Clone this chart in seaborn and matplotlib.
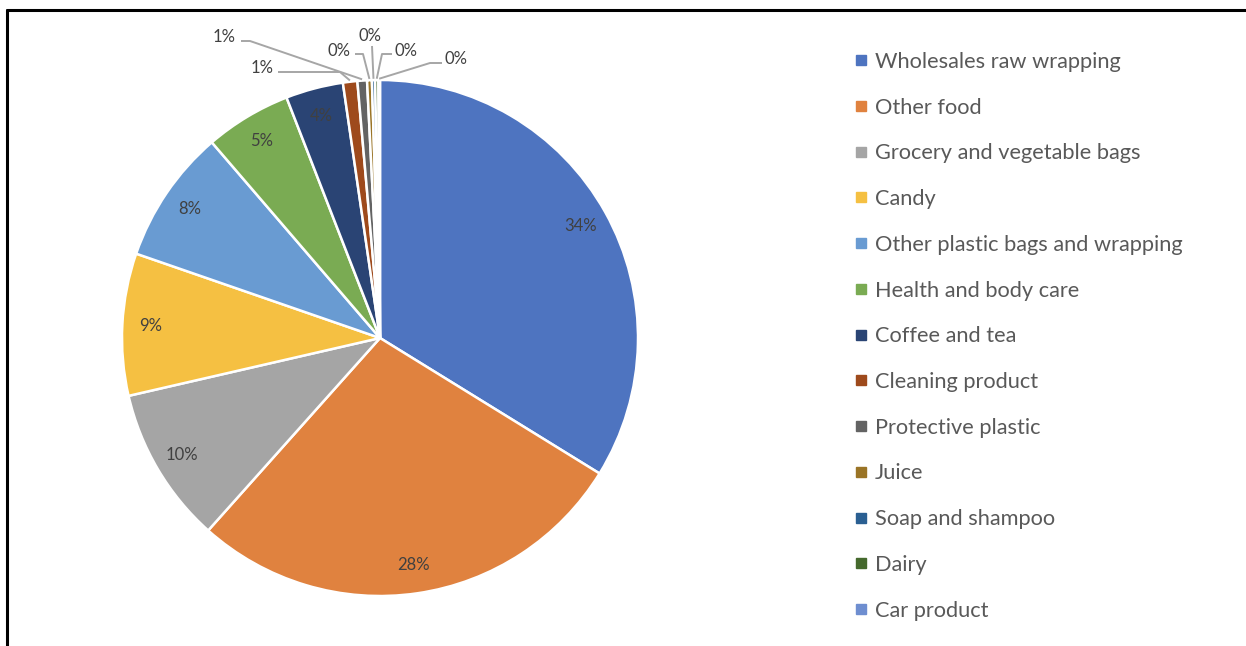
import matplotlib
matplotlib.use("Agg")
import matplotlib.pyplot as plt
from matplotlib.lines import Line2D
import numpy as np
import seaborn as sns

categories = [
    "Wholesales raw wrapping", "Other food", "Grocery and vegetable bags",
    "Candy", "Other plastic bags and wrapping", "Health and body care",
    "Coffee and tea", "Cleaning product", "Protective plastic", "Juice",
    "Soap and shampoo", "Dairy", "Car product",
]
shares = [33.8, 27.8, 9.8, 8.9, 8.4, 5.4, 3.6, 0.9, 0.6, 0.3, 0.2, 0.2, 0.1]
colors = [
    "#4E74C0", "#E0823F", "#A5A5A5", "#F5C042", "#699BD2", "#7AAB53",
    "#2A4474", "#9E4A1C", "#636363", "#9A7426", "#2A5F92", "#45692D",
    "#6E8ED0",
]

sns.set_theme(style="white")
plt.rcParams["font.family"] = ["Lato", "DejaVu Sans"]

W, H, DPI = 1246, 646, 100
fig = plt.figure(figsize=(W / DPI, H / DPI), dpi=DPI)
ax = fig.add_axes([0, 0, 1, 1])

# pie geometry in pixels: centre and radius
cx, cy, R = 380, 338, 258

def px(x, y):
    """pixel position -> data coordinates (radius = 1)."""
    return (x - cx) / R, (cy - y) / R

TEXT = "#404040"

wedges, _, autotexts = ax.pie(
    shares, colors=colors, startangle=90, counterclock=False, radius=1,
    autopct=lambda p: f"{p:.0f}%" if p >= 3 else "", pctdistance=0.89,
    wedgeprops=dict(edgecolor="white", linewidth=1.8),
    textprops=dict(color=TEXT, fontsize=12),
)

# small slices get outside labels with leader lines
leaders = [
    # (label centre, elbow)
    ((262, 68), (340, 72)),
    ((224, 37), (250, 41)),
    ((339, 51), (363, 54)),
    ((370, 36), (372, 46)),
    ((406, 51), (382, 54)),
    ((456, 59), (430, 63)),
]
line_starts = [(278, 72), (241, 41), (355, 54), (372, 46), (392, 54), (442, 63)]
for i, (lab, elbow), start in zip(range(7, 13), leaders, line_starts):
    w = wedges[i]
    ang = np.deg2rad((w.theta1 + w.theta2) / 2)
    ex, ey = 1.005 * np.cos(ang), 1.005 * np.sin(ang)
    sx, sy = px(*start)
    bx, by = px(*elbow)
    ax.plot([sx, bx, ex], [sy, by, ey], color="#A6A6A6", lw=1.4,
            solid_capstyle="butt", zorder=1)
    lx, ly = px(*lab)
    ax.text(lx, ly, f"{round(shares[i])}%", ha="center", va="center",
            color=TEXT, fontsize=12)

x0, y0 = px(0, H)
x1, y1 = px(W, 0)
ax.set_xlim(x0, x1)
ax.set_ylim(y0, y1)
ax.set_aspect("auto")
ax.axis("off")

handles = [Line2D([], [], marker="s", linestyle="", markersize=6.5,
                  markerfacecolor=c, markeredgecolor=c) for c in colors]
fig.legend(handles, categories, loc="upper left",
           bbox_to_anchor=(842 / W, 1 - 41 / H), frameon=False,
           fontsize=15.7, labelcolor="#595959", handlelength=0.7,
           handletextpad=0.3, labelspacing=1.18, borderpad=0)

# outer frame on the top and left edges
fig.add_artist(Line2D([7 / W, 7 / W], [0, 1 - 10 / H], color="black", lw=2.2,
                      transform=fig.transFigure))
fig.add_artist(Line2D([7 / W, 1], [1 - 10 / H, 1 - 10 / H], color="black",
                      lw=2.2, transform=fig.transFigure))

fig.savefig("out.png", dpi=DPI, facecolor="white")
